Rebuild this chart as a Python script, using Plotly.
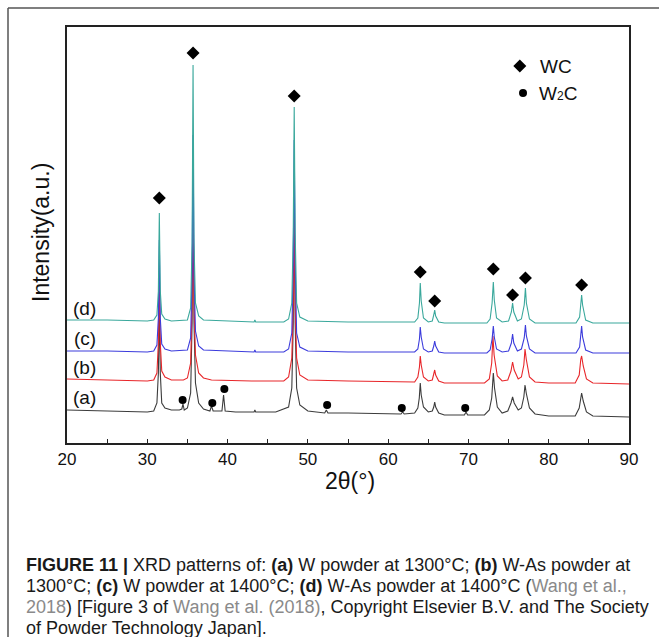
import plotly.graph_objects as go

# ---------------- data ----------------
x_a = [20, 25, 30, 30.8, 31.2, 31.38, 31.5, 31.62, 31.8, 32.2, 33.0, 34.0, 34.3, 34.45, 34.6, 35.0, 35.4, 35.58, 35.7, 35.82, 36.0, 36.4, 37.0, 37.8, 38.0, 38.2, 39.3, 39.5, 39.7, 41, 43.3, 43.4, 43.5, 46, 47.6, 48.0, 48.18, 48.3, 48.42, 48.6, 49.0, 50.0, 52.1, 52.3, 52.5, 55, 60, 61.6, 61.8, 62.0, 63.3, 63.7, 63.88, 64.0, 64.12, 64.4, 65.0, 65.5, 65.68, 65.8, 65.92, 66.3, 67, 69.5, 69.7, 69.9, 72.0, 72.6, 72.9, 73.0, 73.1, 73.25, 73.6, 74.2, 74.9, 75.3, 75.5, 75.7, 76.2, 76.6, 76.9, 77.05, 77.2, 77.6, 78.3, 80, 83.3, 83.8, 84.0, 84.1, 84.3, 84.7, 85.5, 90]
y_a = [33, 32, 31, 32, 40, 70, 138, 70, 40, 35, 33, 33, 34, 39, 33, 35, 50, 120, 280, 120, 60, 40, 34, 32, 37, 32, 32, 48, 32, 31, 31, 33, 31, 31, 36, 55, 120, 245, 120, 55, 38, 32, 30, 33, 30, 30, 29, 29, 31, 29, 30, 35, 45, 60, 48, 36, 31, 32, 36, 41, 36, 30, 28, 28, 31, 28, 28, 33, 45, 62, 70, 55, 36, 30, 32, 40, 46, 40, 33, 35, 46, 58, 50, 35, 29, 27, 27, 35, 48, 50, 42, 31, 27, 26]

x_b = [20, 25, 30, 30.8, 31.2, 31.38, 31.5, 31.62, 31.8, 32.2, 33.0, 34.5, 35.0, 35.4, 35.58, 35.7, 35.82, 36.0, 36.4, 37.0, 38, 43, 47, 47.6, 48.0, 48.18, 48.3, 48.42, 48.6, 49.0, 50, 55, 60, 63.3, 63.7, 63.9, 64.0, 64.12, 64.4, 65.0, 65.5, 65.68, 65.8, 65.92, 66.3, 67, 72.0, 72.6, 72.9, 73.05, 73.2, 73.6, 74.2, 74.9, 75.3, 75.5, 75.7, 76.2, 76.6, 76.9, 77.05, 77.2, 77.6, 78.3, 80, 83.3, 83.8, 84.0, 84.1, 84.3, 84.7, 85.5, 90]
y_b = [64, 63, 62, 63, 70, 100, 172, 100, 72, 66, 63, 63, 65, 80, 140, 255, 140, 88, 70, 65, 63, 62, 62, 66, 85, 140, 225, 140, 85, 68, 63, 62, 61, 61, 66, 76, 87, 78, 66, 62, 63, 68, 73, 68, 62, 60, 60, 64, 80, 107, 88, 67, 62, 63, 72, 81, 73, 64, 66, 78, 94, 84, 66, 61, 60, 60, 68, 84, 87, 77, 64, 60, 59]

x_c = [20, 25, 30, 30.8, 31.2, 31.38, 31.5, 31.62, 31.8, 32.2, 33, 35, 35.4, 35.58, 35.7, 35.82, 36.0, 36.4, 37, 40, 43.3, 43.4, 43.5, 47, 47.6, 48.0, 48.18, 48.3, 48.42, 48.6, 49.0, 50, 55, 63.3, 63.7, 63.9, 64.0, 64.12, 64.4, 65, 65.5, 65.68, 65.8, 65.92, 66.3, 67, 72.3, 72.7, 72.95, 73.1, 73.22, 73.5, 74.2, 75.0, 75.35, 75.5, 75.65, 76.1, 76.6, 76.95, 77.1, 77.22, 77.6, 78.3, 83.4, 83.85, 84.0, 84.1, 84.22, 84.6, 85.5, 90]
y_c = [92, 92, 91, 92, 98, 125, 203, 125, 99, 94, 92, 93, 105, 170, 308, 170, 112, 97, 93, 92, 91, 93, 91, 91, 94, 110, 180, 303, 180, 110, 96, 92, 91, 91, 94, 104, 116, 106, 94, 91, 92, 97, 102, 97, 91, 90, 90, 93, 104, 117, 106, 94, 91, 92, 100, 109, 100, 92, 94, 105, 118, 107, 94, 90, 90, 96, 109, 117, 106, 93, 90, 90]

x_d = [20, 25, 30, 30.8, 31.2, 31.38, 31.5, 31.62, 31.8, 32.2, 33, 35, 35.4, 35.58, 35.7, 35.82, 36.0, 36.4, 37, 43.3, 43.4, 43.5, 47, 47.6, 48.0, 48.18, 48.3, 48.42, 48.6, 49.0, 50, 55, 63.3, 63.7, 63.9, 64.0, 64.12, 64.4, 65, 65.5, 65.68, 65.8, 65.92, 66.3, 67, 72.3, 72.7, 72.95, 73.1, 73.22, 73.5, 74.2, 75.0, 75.35, 75.5, 75.65, 76.1, 76.6, 76.95, 77.1, 77.22, 77.6, 78.3, 83.4, 83.85, 84.0, 84.1, 84.22, 84.6, 85.5, 90]
y_d = [123, 123, 122, 123, 128, 152, 230, 152, 129, 124, 122, 123, 135, 200, 378, 200, 140, 127, 123, 121, 123, 121, 121, 124, 140, 210, 336, 210, 140, 126, 122, 121, 121, 125, 140, 160, 142, 125, 121, 122, 128, 133, 127, 121, 120, 120, 124, 140, 161, 143, 125, 121, 122, 131, 140, 131, 122, 124, 138, 155, 140, 124, 120, 120, 126, 140, 148, 138, 123, 120, 120]

wc_x = [31.5, 35.7, 48.3, 64.0, 65.8, 73.1, 75.5, 77.1, 84.1]
wc_y = [245, 390, 347, 171, 142, 174, 148, 165, 158]
w2c_x = [34.4, 38.1, 39.6, 52.4, 61.7, 69.6]
w2c_y = [43, 40, 54, 38, 35, 35]

series_labels = ["(a)", "(b)", "(c)", "(d)"]
label_y = [46, 76, 105, 135]
legend_names = ["WC", "W<span style='font-size:12px'>2</span>C"]
x_ticks = [20, 30, 40, 50, 60, 70, 80, 90]

caption_lines = [
    "<b>FIGURE 11 |</b> XRD patterns of: <b>(a)</b> W powder at 1300°C; <b>(b)</b> W-As powder at",
    "1300°C; <b>(c)</b> W powder at 1400°C; <b>(d)</b> W-As powder at 1400°C (<span style='color:#8a8a8a'>Wang et al.,</span>",
    "<span style='color:#8a8a8a'>2018</span>) [Figure 3 of <span style='color:#8a8a8a'>Wang et al. (2018)</span>, Copyright Elsevier B.V. and The Society",
    "of Powder Technology Japan].",
]

# ---------------- figure ----------------
W, H = 659, 637
L, R, T, B = 67, 629, 27, 443   # plot area in pixels


def px(xp):
    return (xp - L) / (R - L)


def py(yp):
    return (B - yp) / (B - T)


colors = ["#3c3c3c", "#e8262a", "#3c3cdc", "#3aa89c"]
fig = go.Figure()
for xs, ys, c in zip([x_a, x_b, x_c, x_d], [y_a, y_b, y_c, y_d], colors):
    fig.add_trace(go.Scatter(x=xs, y=ys, mode="lines", line=dict(color=c, width=1.1),
                             showlegend=False, hoverinfo="skip"))

fig.add_trace(go.Scatter(x=wc_x, y=wc_y, mode="markers",
                         marker=dict(symbol="diamond", size=10, color="black"), showlegend=False))
fig.add_trace(go.Scatter(x=w2c_x, y=w2c_y, mode="markers",
                         marker=dict(symbol="circle", size=8, color="black"), showlegend=False))
# legend markers
fig.add_trace(go.Scatter(x=[76.4], y=[377], mode="markers",
                         marker=dict(symbol="diamond", size=10, color="black"), showlegend=False))
fig.add_trace(go.Scatter(x=[76.8], y=[350], mode="markers",
                         marker=dict(symbol="circle", size=8, color="black"), showlegend=False))

ann = []
ann.append(dict(x=78.7, y=377, text=legend_names[0], showarrow=False, xanchor="left",
                font=dict(size=19, color="#111")))
ann.append(dict(x=78.5, y=350, text=legend_names[1], showarrow=False, xanchor="left",
                font=dict(size=19, color="#111")))
for t, yy in zip(series_labels, label_y):
    ann.append(dict(x=22.2, y=yy, text=t, showarrow=False, xanchor="center",
                    font=dict(size=19, color="#111")))
ann.append(dict(xref="paper", yref="paper", x=px(41), y=py(233), text="Intensity(a.u.)",
                textangle=-90, showarrow=False, xanchor="center", yanchor="middle",
                font=dict(size=23, color="#111")))
ann.append(dict(xref="paper", yref="paper", x=px(350), y=py(481), text="2θ(°)",
                showarrow=False, xanchor="center", yanchor="middle",
                font=dict(size=23, color="#111")))
for i, line in enumerate(caption_lines):
    ann.append(dict(xref="paper", yref="paper", x=px(24), y=py(565 + 21 * i), text=line,
                    showarrow=False, xanchor="left", yanchor="middle",
                    font=dict(size=18, color="#1a1a1a", family="Liberation Sans, Arial")))

shapes = [
    dict(type="line", xref="paper", yref="paper", x0=px(8), x1=px(8), y0=py(8), y1=py(640),
         line=dict(color="#555", width=1.5)),
    dict(type="line", xref="paper", yref="paper", x0=px(8), x1=px(662), y0=py(8), y1=py(8),
         line=dict(color="#555", width=1.5)),
]

fig.update_layout(
    width=W, height=H,
    margin=dict(l=L, r=W - R, t=T, b=H - B),
    paper_bgcolor="white", plot_bgcolor="white",
    font=dict(family="Liberation Sans, Arial", color="#111"),
    annotations=ann, shapes=shapes,
    xaxis=dict(range=[20, 90], tickvals=x_ticks, ticks="inside", ticklen=4, tickwidth=1,
               tickcolor="#222", showline=True, linecolor="#222", linewidth=1.5, mirror=True,
               showgrid=False, zeroline=False, tickfont=dict(size=17, color="#111"),
               minor=dict(ticks="inside", dtick=5, ticklen=4, tickcolor="#222", showgrid=False)),
    yaxis=dict(range=[0, 416], showticklabels=False, ticks="", showline=True, linecolor="#222",
               linewidth=1.5, mirror=True, showgrid=False, zeroline=False),
)

fig.write_html("out.html", config={"displayModeBar": False},
               post_script="document.body.style.margin='0';document.body.style.overflow='hidden';")
